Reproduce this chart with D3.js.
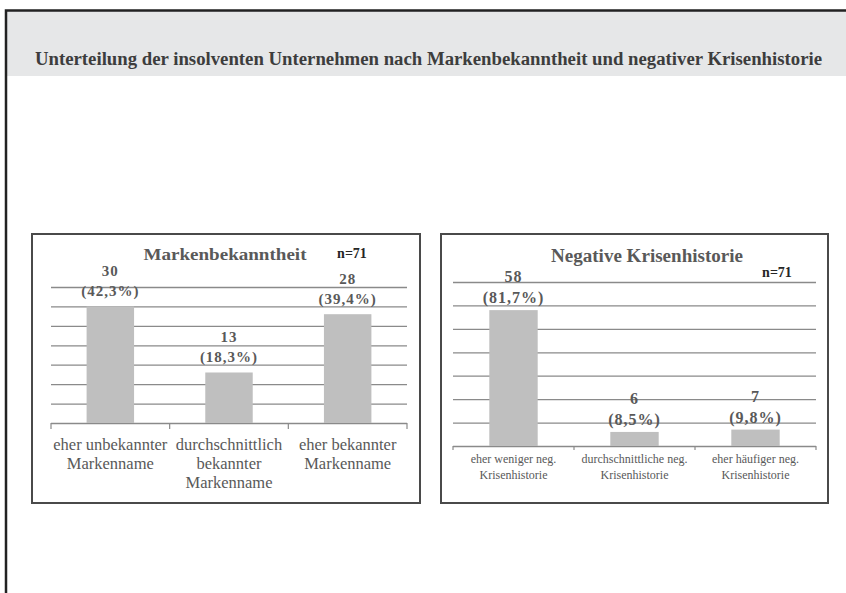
<!DOCTYPE html>
<html>
<head>
<meta charset="utf-8">
<script src="https://cdn.jsdelivr.net/npm/d3@7"></script>
<style>
  body { margin: 0; background: #fff; }
  svg { display: block; font-family: "Liberation Serif", "Times New Roman", serif; }
</style>
</head>
<body>
<div id="chart"></div>
<script>
const pageTitle = "Unterteilung der insolventen Unternehmen nach Markenbekanntheit und negativer Krisenhistorie"

const brandTitle = "Markenbekanntheit"
const brandCategories = [
  ["eher unbekannter", "Markenname"],
  ["durchschnittlich", "bekannter", "Markenname"],
  ["eher bekannter", "Markenname"]
]
const brandCounts = [30, 13, 28]
const brandShares = ["42,3%", "18,3%", "39,4%"]
const brandMax = 35

const crisisTitle = "Negative Krisenhistorie"
const crisisCategories = [
  ["eher weniger neg.", "Krisenhistorie"],
  ["durchschnittliche neg.", "Krisenhistorie"],
  ["eher häufiger neg.", "Krisenhistorie"]
]
const crisisCounts = [58, 6, 7]
const crisisShares = ["81,7%", "8,5%", "9,8%"]
const crisisMax = 70

const sampleLabel = "n=71"

const width = 846, height = 593
const textGrey = "#595959"
const gridGrey = "#8a8a8a"

const svg = d3.select("#chart").append("svg")
  .attr("width", width)
  .attr("height", height)

// page frame + grey header band
svg.append("rect")
  .attr("x", 7).attr("y", 11)
  .attr("width", width - 7).attr("height", 65)
  .attr("fill", "#e6e7e8")

svg.append("path")
  .attr("d", `M6,${height} V10.5 H${width}`)
  .attr("fill", "none")
  .attr("stroke", "#222")
  .attr("stroke-width", 2.5)

svg.append("text")
  .attr("x", 35).attr("y", 65)
  .attr("textLength", 787)
  .attr("lengthAdjust", "spacingAndGlyphs")
  .attr("font-size", 18)
  .attr("font-weight", "bold")
  .attr("fill", "#3d3d3d")
  .text(pageTitle)

function panel(opts) {
  const g = svg.append("g")

  g.append("rect")
    .attr("x", opts.box[0]).attr("y", opts.box[1])
    .attr("width", opts.box[2] - opts.box[0])
    .attr("height", opts.box[3] - opts.box[1])
    .attr("fill", "#fff")
    .attr("stroke", "#4a4a4a")
    .attr("stroke-width", 2)

  const x = d3.scaleBand()
    .domain(d3.range(opts.counts.length))
    .range([opts.plot[0], opts.plot[2]])
    .paddingInner(0.6)
    .paddingOuter(0.3)

  const y = d3.scaleLinear()
    .domain([0, opts.max])
    .range([opts.plot[3], opts.plot[1]])

  // gridlines
  g.append("g")
    .attr("transform", `translate(${opts.plot[0]},0)`)
    .call(d3.axisLeft(y).ticks(7).tickSize(-(opts.plot[2] - opts.plot[0])).tickFormat(""))
    .call(a => a.select(".domain").remove())
    .call(a => a.selectAll(".tick line").attr("stroke", gridGrey).attr("stroke-width", 1.3))

  // category tick marks
  const bounds = d3.range(opts.counts.length + 1).map(i => opts.plot[0] + i * x.step())
  g.append("g").selectAll("line")
    .data(bounds)
    .join("line")
      .attr("x1", d => d).attr("x2", d => d)
      .attr("y1", y(0)).attr("y2", y(0) + opts.tick)
      .attr("stroke", gridGrey)
      .attr("stroke-width", 1.2)

  g.append("g").selectAll("rect")
    .data(opts.counts)
    .join("rect")
      .attr("x", (d, i) => x(i))
      .attr("y", d => y(d))
      .attr("width", x.bandwidth())
      .attr("height", d => y(0) - y(d))
      .attr("fill", "#bfbfbf")

  // value labels
  const labels = g.append("g")
    .attr("text-anchor", "middle")
    .attr("font-weight", "bold")
    .attr("font-size", opts.valueSize)
    .attr("letter-spacing", 1)
    .attr("fill", textGrey)
    .selectAll("text")
    .data(opts.counts)
    .join("text")
  labels.append("tspan")
    .attr("x", (d, i) => x(i) + x.bandwidth() / 2)
    .attr("y", d => y(d) - opts.labelGap[0])
    .text(d => d)
  labels.append("tspan")
    .attr("x", (d, i) => x(i) + x.bandwidth() / 2)
    .attr("y", d => y(d) - opts.labelGap[1])
    .text((d, i) => `(${opts.shares[i]})`)

  // category labels
  g.append("g")
    .attr("text-anchor", "middle")
    .attr("font-size", opts.catSize)
    .attr("fill", textGrey)
    .selectAll("text")
    .data(opts.categories)
    .join("text")
    .each(function(lines, i) {
      d3.select(this).selectAll("tspan")
        .data(lines)
        .join("tspan")
          .attr("x", x(i) + x.bandwidth() / 2)
          .attr("y", (l, j) => opts.catY + j * opts.catLine)
          .text(l => l)
    })

  g.append("text")
    .attr("x", opts.titlePos[0]).attr("y", opts.titlePos[1])
    .attr("text-anchor", "middle")
    .attr("font-weight", "bold")
    .attr("font-size", opts.titleSize)
    .attr("textLength", opts.titleLength)
    .attr("lengthAdjust", "spacingAndGlyphs")
    .attr("fill", textGrey)
    .text(opts.title)

  g.append("text")
    .attr("x", opts.nPos[0]).attr("y", opts.nPos[1])
    .attr("text-anchor", "middle")
    .attr("font-weight", "bold")
    .attr("font-size", 14)
    .attr("fill", "#262626")
    .text(sampleLabel)
}

panel({
  box: [32, 234, 420, 503],
  plot: [51, 287, 407, 423],
  counts: brandCounts,
  shares: brandShares,
  categories: brandCategories,
  max: brandMax,
  tick: 6,
  valueSize: 15,
  labelGap: [30, 10],
  catSize: 16.5,
  catY: 450,
  catLine: 19,
  title: brandTitle,
  titlePos: [225, 260],
  titleSize: 16,
  titleLength: 163,
  nPos: [352, 258]
})

panel({
  box: [441, 234, 828, 503],
  plot: [453, 282, 816, 446],
  counts: crisisCounts,
  shares: crisisShares,
  categories: crisisCategories,
  max: crisisMax,
  tick: 4,
  valueSize: 16,
  labelGap: [28, 7],
  catSize: 12,
  catY: 463,
  catLine: 16,
  title: crisisTitle,
  titlePos: [647, 262],
  titleSize: 18,
  titleLength: 192,
  nPos: [777, 277]
})
</script>
</body>
</html>
